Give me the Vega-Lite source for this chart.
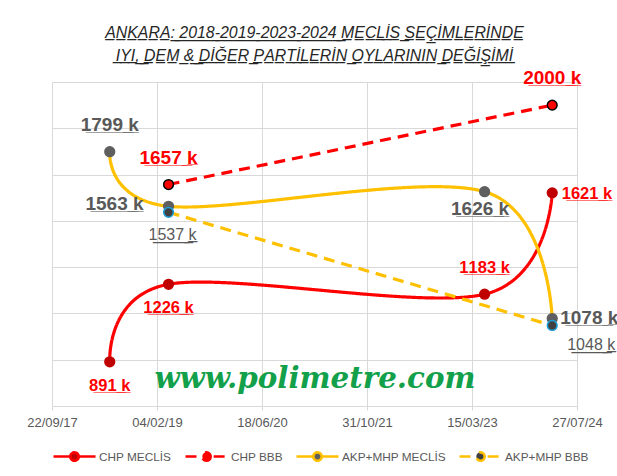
{
  "$schema": "https://vega.github.io/schema/vega-lite/v6.json",
  "width": 525,
  "height": 324,
  "autosize": {"type": "none"},
  "padding": {"left": 52, "right": 40, "top": 82, "bottom": 70},
  "background": "white",
  "config": {"view": {"stroke": null}, "font": "Liberation Sans"},
  "title": {
    "text": {"expr": "[replace('ANKARA: 2018-2019-2023-2024 MECLİS SEÇİMLERİNDE', /(.)/g, '$1\u0332'), replace('IYI, DEM & DİĞER PARTİLERİN OYLARININ DEĞİŞİMİ', /(.)/g, '$1\u0332')]"},
    "font": "Liberation Sans",
    "fontSize": 15.9,
    "fontStyle": "italic",
    "fontWeight": "normal",
    "color": "#262626",
    "lineHeight": 23,
    "anchor": "middle",
    "frame": "group",
    "offset": 5
  },
  "data": {
    "values": [
      {"series": "CHP MECLİS", "date": "2018-06-24", "value": 891},
      {"series": "CHP MECLİS", "date": "2019-03-31", "value": 1226},
      {"series": "CHP MECLİS", "date": "2023-05-14", "value": 1183},
      {"series": "CHP MECLİS", "date": "2024-03-31", "value": 1621},
      {"series": "CHP BBB", "date": "2019-03-31", "value": 1657},
      {"series": "CHP BBB", "date": "2024-03-31", "value": 2000},
      {"series": "AKP+MHP MECLİS", "date": "2018-06-24", "value": 1799},
      {"series": "AKP+MHP MECLİS", "date": "2019-03-31", "value": 1563},
      {"series": "AKP+MHP MECLİS", "date": "2023-05-14", "value": 1626},
      {"series": "AKP+MHP MECLİS", "date": "2024-03-31", "value": 1078},
      {"series": "AKP+MHP BBB", "date": "2019-03-31", "value": 1537},
      {"series": "AKP+MHP BBB", "date": "2024-03-31", "value": 1048}
    ]
  },
  "layer": [
    {
      "data": {"values": [{"site": "www.polimetre.com"}]},
      "mark": {"type": "text", "font": "DejaVu Serif", "fontStyle": "italic", "fontWeight": "bold", "fontSize": 29.3, "color": "#12A04A", "align": "center", "baseline": "alphabetic"},
      "encoding": {
        "x": {"datum": {"year": 2021, "month": 2, "date": 25, "utc": true}, "type": "temporal", "title": null},
        "y": {"datum": 778, "type": "quantitative", "title": null},
        "text": {"field": "site", "type": "nominal"}
      }
    },
    {
      "transform": [{"calculate": "replace(datum.value + ' k', /(.)/g, '$1\u0332')", "as": "label"}],
      "encoding": {
        "x": {
          "field": "date", "type": "temporal", "title": null,
          "scale": {"type": "utc", "nice": false, "domain": [{"year": 2017, "month": 9, "date": 22, "utc": true}, {"year": 2024, "month": 7, "date": 27, "utc": true}]},
          "axis": {
            "values": [
              {"year": 2017, "month": 9, "date": 22, "utc": true},
              {"year": 2019, "month": 2, "date": 4, "utc": true},
              {"year": 2020, "month": 6, "date": 18, "utc": true},
              {"year": 2021, "month": 10, "date": 31, "utc": true},
              {"year": 2023, "month": 3, "date": 15, "utc": true},
              {"year": 2024, "month": 7, "date": 27, "utc": true}
            ],
            "format": "%d/%m/%y",
            "labelFont": "Liberation Sans",
            "labelFontSize": 13,
            "labelColor": "#595959",
            "labelPadding": 6,
            "tickSize": 4,
            "tickColor": "#D9D9D9",
            "domainColor": "#D9D9D9",
            "grid": true,
            "gridColor": "#D9D9D9",
            "labelOverlap": false,
            "labelFlush": false
          }
        },
        "y": {
          "field": "value", "type": "quantitative", "title": null,
          "scale": {"domain": [700, 2100], "nice": false, "zero": false},
          "axis": {"values": [700, 900, 1100, 1300, 1500, 1700, 1900, 2100], "labels": false, "ticks": false, "domain": false, "grid": true, "gridColor": "#D9D9D9"}
        }
      },
      "layer": [
        {
          "mark": {"type": "line", "interpolate": "cardinal", "strokeWidth": 3.2},
          "encoding": {
            "color": {
              "field": "series", "type": "nominal",
              "scale": {"domain": ["CHP MECLİS", "CHP BBB", "AKP+MHP MECLİS", "AKP+MHP BBB"], "range": ["#FF0000", "#FF0000", "#FFC000", "#FFC000"]},
              "legend": {
                "title": null, "orient": "none", "legendX": 0, "legendY": 352, "direction": "horizontal",
                "symbolSize": 1764, "symbolStrokeWidth": 2.6, "labelFont": "Liberation Sans", "labelFontSize": 11.8,
                "labelColor": "#595959", "labelOffset": 2, "columnPadding": 8, "padding": 0,
                "encode": {"symbols": {"update": {
                  "shape": {"signal": "test(/BBB/, datum.value) ? 'M-1,0H-0.34M0.34,0H1M0.2,0A0.2,0.2,0,1,1,-0.2,0A0.2,0.2,0,1,1,0.2,0Z' : 'M-1,0H-0.2M0.2,0H1M0.2,0A0.2,0.2,0,1,1,-0.2,0A0.2,0.2,0,1,1,0.2,0Z'"},
                  "fill": {"signal": "datum.value == 'CHP MECLİS' ? '#C00000' : datum.value == 'CHP BBB' ? '#FF0000' : datum.value == 'AKP+MHP MECLİS' ? '#5F5F5F' : '#404040'"},
                  "stroke": {"signal": "{gradient: 'linear', x1: 0, y1: 0, x2: 1, y2: 0, stops: [{offset: 0, color: test(/CHP/, datum.value) ? '#FF0000' : '#FFC000'}, {offset: 0.365, color: test(/CHP/, datum.value) ? '#FF0000' : '#FFC000'}, {offset: 0.365, color: datum.value == 'CHP BBB' ? '#000000' : datum.value == 'AKP+MHP BBB' ? '#1CA0DC' : datum.value == 'CHP MECLİS' ? '#C00000' : '#5F5F5F'}, {offset: 0.635, color: datum.value == 'CHP BBB' ? '#000000' : datum.value == 'AKP+MHP BBB' ? '#1CA0DC' : datum.value == 'CHP MECLİS' ? '#C00000' : '#5F5F5F'}, {offset: 0.635, color: test(/CHP/, datum.value) ? '#FF0000' : '#FFC000'}, {offset: 1, color: test(/CHP/, datum.value) ? '#FF0000' : '#FFC000'}]}"},
                  "opacity": {"value": 1}
                }}}
              }
            },
            "strokeDash": {
              "field": "series", "type": "nominal",
              "scale": {"domain": ["CHP MECLİS", "CHP BBB", "AKP+MHP MECLİS", "AKP+MHP BBB"], "range": [[1, 0], [11, 7], [1, 0], [11, 7]]},
              "legend": null
            }
          }
        },
        {
          "mark": {"type": "point", "filled": true, "size": 95, "strokeWidth": 1.5, "opacity": 1},
          "encoding": {
            "fill": {
              "field": "series", "type": "nominal",
              "sort": ["CHP MECLİS", "CHP BBB", "AKP+MHP MECLİS", "AKP+MHP BBB"],
              "scale": {"range": ["#C00000", "#FF0000", "#5F5F5F", "#404040"]},
              "legend": null
            },
            "stroke": {
              "field": "series", "type": "nominal",
              "sort": ["CHP MECLİS", "CHP BBB", "AKP+MHP MECLİS", "AKP+MHP BBB"],
              "scale": {"range": ["#C00000", "#000000", "#5F5F5F", "#1CA0DC"]},
              "legend": null
            }
          }
        },
        {
          "transform": [{"filter": "datum.series == 'CHP BBB'"}],
          "mark": {"type": "text", "font": "Liberation Sans", "fontWeight": "bold", "fontSize": 19, "color": "#FF0000", "align": "center", "baseline": "middle", "dy": -27},
          "encoding": {"text": {"field": "label"}}
        },
        {
          "transform": [{"filter": "datum.series == 'AKP+MHP MECLİS' && utcyear(datum.date) == 2018"}],
          "mark": {"type": "text", "font": "Liberation Sans", "fontWeight": "bold", "fontSize": 19, "color": "#595959", "align": "center", "baseline": "middle", "dy": -27},
          "encoding": {"text": {"field": "label"}}
        },
        {
          "transform": [{"filter": "datum.series == 'CHP MECLİS' && utcyear(datum.date) == 2023"}],
          "mark": {"type": "text", "font": "Liberation Sans", "fontWeight": "bold", "fontSize": 16.5, "color": "#FF0000", "align": "center", "baseline": "middle", "dy": -26},
          "encoding": {"text": {"field": "label"}}
        },
        {
          "transform": [{"filter": "datum.series == 'CHP MECLİS' && utcyear(datum.date) <= 2019"}],
          "mark": {"type": "text", "font": "Liberation Sans", "fontWeight": "bold", "fontSize": 16.5, "color": "#FF0000", "align": "center", "baseline": "middle", "dy": 24},
          "encoding": {"text": {"field": "label"}}
        },
        {
          "transform": [{"filter": "datum.series == 'CHP MECLİS' && utcyear(datum.date) == 2024"}],
          "mark": {"type": "text", "font": "Liberation Sans", "fontWeight": "bold", "fontSize": 16.5, "color": "#FF0000", "align": "left", "baseline": "middle", "dx": 9.5, "dy": 1.5},
          "encoding": {"text": {"field": "label"}}
        },
        {
          "transform": [{"filter": "datum.series == 'AKP+MHP MECLİS' && utcyear(datum.date) == 2019"}],
          "mark": {"type": "text", "font": "Liberation Sans", "fontWeight": "bold", "fontSize": 19, "color": "#595959", "align": "right", "baseline": "middle", "dx": -25, "dy": -2.5},
          "encoding": {"text": {"field": "label"}}
        },
        {
          "transform": [{"filter": "datum.series == 'AKP+MHP MECLİS' && utcyear(datum.date) == 2023"}],
          "mark": {"type": "text", "font": "Liberation Sans", "fontWeight": "bold", "fontSize": 19, "color": "#595959", "align": "center", "baseline": "middle", "dx": -4.5, "dy": 17},
          "encoding": {"text": {"field": "label"}}
        },
        {
          "transform": [{"filter": "datum.series == 'AKP+MHP MECLİS' && utcyear(datum.date) == 2024"}],
          "mark": {"type": "text", "font": "Liberation Sans", "fontWeight": "bold", "fontSize": 19, "color": "#595959", "align": "left", "baseline": "middle", "dx": 8, "dy": -1},
          "encoding": {"text": {"field": "label"}}
        },
        {
          "transform": [{"filter": "datum.series == 'AKP+MHP BBB' && utcyear(datum.date) == 2019"}],
          "mark": {"type": "text", "font": "Liberation Sans", "fontWeight": "normal", "fontSize": 16, "color": "#595959", "align": "center", "baseline": "middle", "dx": 4, "dy": 23},
          "encoding": {"text": {"field": "label"}}
        },
        {
          "transform": [{"filter": "datum.series == 'AKP+MHP BBB' && utcyear(datum.date) == 2024"}],
          "mark": {"type": "text", "font": "Liberation Sans", "fontWeight": "normal", "fontSize": 16, "color": "#595959", "align": "left", "baseline": "middle", "dx": 15, "dy": 19.5},
          "encoding": {"text": {"field": "label"}}
        }
      ]
    }
  ]
}
